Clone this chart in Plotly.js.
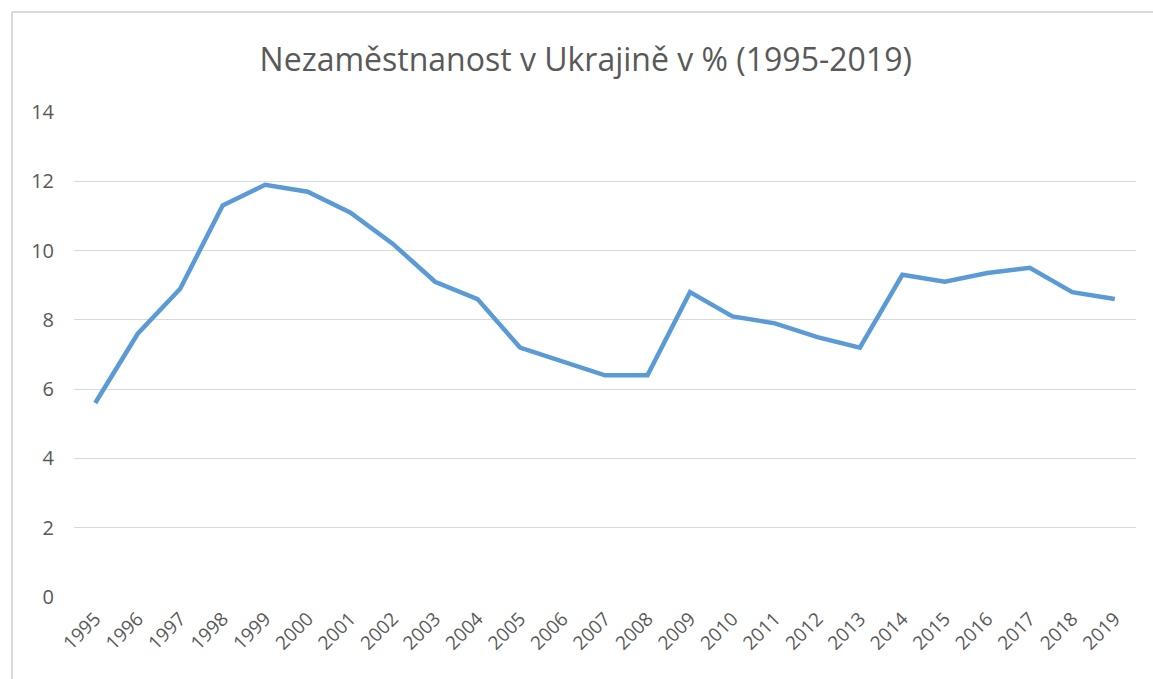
<!DOCTYPE html>
<html>
<head>
<meta charset="utf-8">
<script src="https://cdn.plot.ly/plotly-3.0.1.min.js"></script>
<style>
html,body{margin:0;padding:0;background:#fff;}
#chart{width:1153px;height:679px;}
</style>
</head>
<body>
<div id="chart"></div>
<script>
const years = ["1995","1996","1997","1998","1999","2000","2001","2002","2003","2004","2005","2006","2007","2008","2009","2010","2011","2012","2013","2014","2015","2016","2017","2018","2019"];
const unemployment = [5.6,7.6,8.9,11.3,11.9,11.7,11.1,10.2,9.1,8.6,7.2,6.8,6.4,6.4,8.8,8.1,7.9,7.5,7.2,9.3,9.1,9.35,9.5,8.8,8.6];
const yTicks = [0,2,4,6,8,10,12,14];
const chartTitle = "Nezaměstnanost v Ukrajině v % (1995-2019)";

const trace = {
  x: years,
  y: unemployment,
  type: "scatter",
  mode: "lines",
  line: {color: "#5B9BD5", width: 4.5},
  hoverinfo: "x+y"
};

const layout = {
  width: 1153,
  height: 679,
  margin: {l: 74, r: 17, t: 112, b: 82, pad: 0},
  paper_bgcolor: "#ffffff",
  plot_bgcolor: "#ffffff",
  showlegend: false,
  font: {family: "Open Sans, sans-serif", color: "#595959"},
  title: {
    text: chartTitle,
    font: {family: "Open Sans, sans-serif", size: 32, color: "#595959"},
    x: 0.508, xanchor: "center",
    y: 0.912, yanchor: "middle"
  },
  xaxis: {
    type: "category",
    range: [-0.5, 24.5],
    showgrid: false,
    zeroline: false,
    showline: false,
    ticks: "",
    tickangle: -45,
    ticklabelstandoff: 6,
    tickfont: {size: 19, color: "#595959"},
    fixedrange: true
  },
  yaxis: {
    range: [0, 14],
    tickvals: yTicks,
    ticktext: yTicks.map(String),
    showgrid: true,
    gridcolor: "#D9D9D9",
    gridwidth: 1,
    zeroline: false,
    showline: false,
    ticks: "",
    ticklabelstandoff: 19,
    tickfont: {size: 20, color: "#595959"},
    fixedrange: true
  },
  shapes: [
    {type: "line", xref: "paper", yref: "paper",
     x0: -62/1062, x1: 1.2, y0: 1 + 100/485, y1: 1 + 100/485,
     line: {color: "#D9D9D9", width: 2}},
    {type: "line", xref: "paper", yref: "paper",
     x0: -62/1062, x1: -62/1062, y0: 1 + 100/485, y1: -0.3,
     line: {color: "#D9D9D9", width: 2}}
  ]
};

Plotly.newPlot("chart", [trace], layout, {displayModeBar: false, staticPlot: false});
</script>
</body>
</html>
